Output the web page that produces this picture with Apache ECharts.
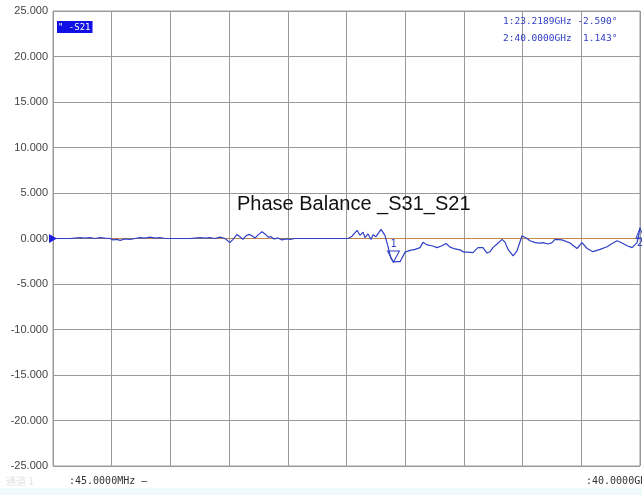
<!DOCTYPE html>
<html>
<head>
<meta charset="UTF-8">
<title>Phase Balance _S31_S21</title>
<script src="https://cdn.jsdelivr.net/npm/echarts@6/dist/echarts.min.js"></script>
<style>html,body{margin:0;padding:0;background:#fff;}</style>
</head>
<body>
<div id="main" style="width:642px;height:495px;"></div>
<script>
// trace data, frequency in GHz, phase difference in degrees
var freqGHz = [0.045, 0.52, 1.20, 1.54, 1.88, 2.22, 2.56, 2.90, 3.24, 3.58, 3.93, 4.13, 4.40, 4.61, 4.95,
  5.29, 5.63, 5.97, 6.31, 6.65, 6.99, 7.33, 7.67, 8.01, 8.69, 9.37, 9.71, 10.05, 10.39, 10.73, 11.07,
  11.41, 11.75, 12.09, 12.30, 12.57, 12.77, 12.98, 13.18, 13.39, 13.59, 13.80, 14.00, 14.27, 14.48,
  14.68, 14.88, 15.09, 15.36, 15.63, 15.91, 16.18, 16.52, 18.22, 20.13, 20.40, 20.74, 20.94, 21.15,
  21.28, 21.49, 21.69, 21.83, 22.03, 22.37, 22.64, 22.85, 23.05, 23.22, 23.39, 23.67, 24.01, 24.35,
  24.69, 25.03, 25.23, 25.50, 25.84, 26.18, 26.52, 26.80, 27.07, 27.41, 27.75, 28.02, 28.29, 28.63,
  28.97, 29.31, 29.59, 29.79, 29.99, 30.27, 30.61, 30.81, 31.02, 31.36, 31.63, 31.97, 32.04, 32.31,
  32.51, 32.86, 33.20, 33.40, 33.74, 34.01, 34.22, 34.69, 35.24, 35.71, 36.05, 36.40, 36.80, 37.28,
  37.76, 38.16, 38.44, 38.78, 39.12, 39.46, 39.80, 40.00];
var phaseDeg = [0, 0, 0, 0.05, 0.1, 0.05, 0.1, 0, 0.1, 0.05, 0, -0.15, -0.1, -0.2, -0.05,
  -0.1, 0, 0.1, 0.05, 0.15, 0.05, 0.1, 0, 0, 0, 0, 0.05, 0.1, 0.05, 0.1, 0,
  0.15, 0, -0.45, -0.1, 0.45, 0.2, -0.1, 0.3, 0.45, 0.3, 0.05, 0.4, 0.75, 0.5,
  0.15, 0.2, -0.05, 0.05, -0.15, -0.05, -0.1, 0, 0, 0, 0.25, 0.9, 0.35, 0.7,
  0.1, 0.5, -0.1, 0.4, 0.2, 1.0, 0.35, -0.9, -2.2, -2.59, -2.55, -2.55, -1.5, -1.3,
  -1.2, -1.0, -0.4, -0.7, -0.8, -1.0, -0.8, -0.55, -0.95, -1.15, -1.25, -1.5, -1.5, -1.55,
  -1.0, -1.0, -1.6, -1.45, -1.0, -0.6, -0.1, -0.4, -1.2, -1.9, -1.35, 0.3, 0.2, 0,
  -0.25, -0.45, -0.5, -0.45, -0.6, -0.45, -0.1, -0.15, -0.5, -1.1, -0.45, -1.1, -1.45, -1.2,
  -0.9, -0.5, -0.25, -0.5, -0.8, -1.0, -0.45, 1.143];

var markerFreq = [23.2189, 40.0];
var markerVal = [-2.590, 1.143];
var startGHz = 0.045, stopGHz = 40.0;
var yMin = -25, yMax = 25, yStep = 5;
var startLabel = ':45.0000MHz \u2014';
var stopLabel = ':40.0000GH';
var traceName = '" -S21';

var blue = '#3040c6';
var monoFont = 'DejaVu Sans Mono';

var chart = echarts.init(document.getElementById('main'));

var traceData = freqGHz.map(function (f, i) { return [f, phaseDeg[i]]; });
var readout = markerFreq.map(function (f, i) {
  var v = markerVal[i];
  return (i + 1) + ':' + f.toFixed(4) + 'GHz ' + (v < 0 ? '' : ' ') + v.toFixed(3) + '\u00b0';
}).join('\n');

chart.setOption({
  animation: false,
  backgroundColor: '#ffffff',
  title: [{
    text: 'Phase Balance _S31_S21',
    left: 237, top: 194, padding: 0,
    textStyle: { fontFamily: 'Liberation Sans', fontSize: 20, fontWeight: 'normal', color: '#111' }
  }, {
    text: traceName,
    left: 57, top: 21, padding: [1, 2, 0, 1],
    backgroundColor: '#1010e6',
    textStyle: { fontFamily: monoFont, fontSize: 9, fontWeight: 'normal', color: '#fff', lineHeight: 11 }
  }, {
    text: readout,
    left: 503, top: 13, padding: 0,
    textStyle: { fontFamily: monoFont, fontSize: 9.5, fontWeight: 'normal', color: blue, lineHeight: 17 }
  }],
  graphic: [{
    type: 'rect', left: 0, top: 488, silent: true,
    shape: { width: 642, height: 7 },
    style: { fill: '#eefafc' }
  }, {
    type: 'text', left: 6, top: 476, silent: true,
    style: { text: '\u901a\u9053 1', fill: '#e2e2e2', font: '10px "Noto Sans CJK SC"' }
  }, {
    type: 'text', left: 69, top: 476, silent: true,
    style: { text: startLabel, fill: '#333', font: '10px "DejaVu Sans Mono"' }
  }, {
    type: 'text', left: 586, top: 476, silent: true,
    style: { text: stopLabel, fill: '#333', font: '10px "DejaVu Sans Mono"' }
  }],
  grid: {
    left: 53, right: 2, top: 11, bottom: 29,
    show: true, borderColor: '#9a9a9a', borderWidth: 1
  },
  xAxis: [{
    type: 'value', min: startGHz, max: stopGHz, show: false
  }, {
    type: 'value', min: 0, max: 10, interval: 1,
    axisLine: { show: false }, axisTick: { show: false }, axisLabel: { show: false },
    splitLine: { show: true, lineStyle: { color: '#9a9a9a', width: 1 } }
  }],
  yAxis: {
    type: 'value', min: yMin, max: yMax, interval: yStep,
    axisLine: { show: false }, axisTick: { show: false },
    axisLabel: {
      margin: 5, color: '#444', fontFamily: 'Liberation Sans', fontSize: 11,
      formatter: function (v) { return v.toFixed(3); }
    },
    splitLine: { show: true, lineStyle: { color: '#9a9a9a', width: 1 } }
  },
  series: [{
    // reference line
    type: 'line', xAxisIndex: 0, silent: true, z: 1,
    data: [[startGHz, 0], [stopGHz, 0]],
    symbol: 'none', lineStyle: { color: '#c0874f', width: 1 }
  }, {
    name: 'S21', type: 'line', xAxisIndex: 0, z: 3,
    data: traceData,
    symbol: 'none',
    lineStyle: { color: blue, width: 1.2 },
    markPoint: {
      silent: true,
      data: [{
        coord: [startGHz, 0], symbol: 'triangle', symbolSize: [9, 8], symbolRotate: -90,
        symbolOffset: [0, 0], itemStyle: { color: '#2020e0' }, label: { show: false }
      }, {
        coord: [markerFreq[0], markerVal[0]], symbol: 'triangle', symbolSize: [12, 11], symbolRotate: 180,
        symbolOffset: [0, '-50%'],
        itemStyle: { color: 'rgba(0,0,0,0)', borderColor: blue, borderWidth: 1 },
        label: { show: true, position: 'top', distance: 1, formatter: '1', color: blue, fontFamily: monoFont, fontSize: 10 }
      }, {
        coord: [markerFreq[1], markerVal[1]], symbol: 'triangle', symbolSize: [8, 10],
        symbolOffset: [0, '50%'],
        itemStyle: { color: 'rgba(0,0,0,0)', borderColor: blue, borderWidth: 1 },
        label: { show: true, position: 'bottom', distance: 0, formatter: '2', color: blue, fontFamily: monoFont, fontSize: 10 }
      }]
    }
  }]
});
</script>
</body>
</html>
